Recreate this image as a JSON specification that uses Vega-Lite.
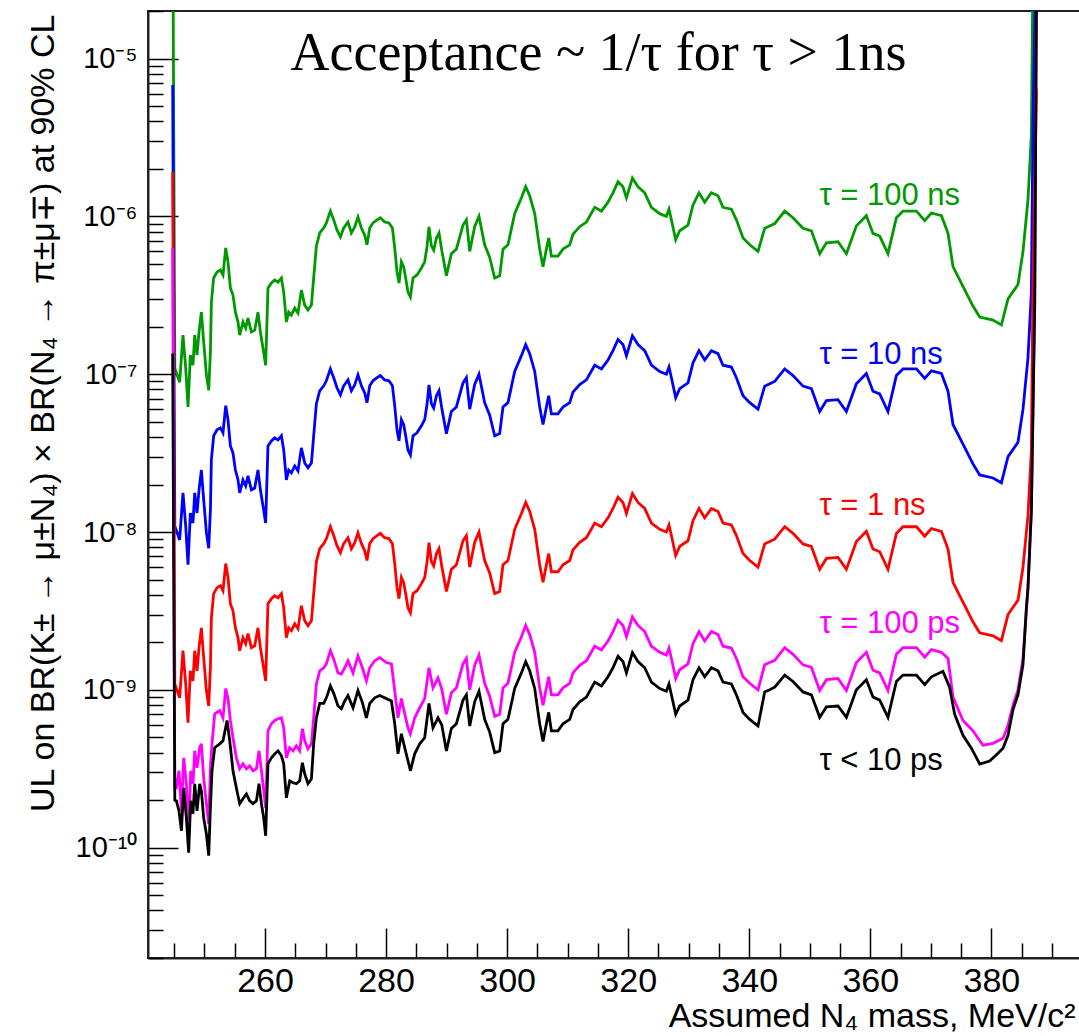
{
"$schema": "https://vega.github.io/schema/vega-lite/v6.json",
"width": 935, "height": 947,
"autosize": {"type": "none"},
"padding": {"left": 148, "top": 11, "right": 0, "bottom": 78},
"background": "white",
"config": {"view": {"stroke": "#222", "strokeWidth": 2}, "font": "Liberation Sans"},
"datasets": {
"red": [{"m":244.75,"v":1.9e-6},{"m":245.1,"v":1.09e-9},{"m":245.9,"v":8.9e-10},{"m":246.45,"v":1.77e-9},{"m":246.9,"v":1.09e-9},{"m":247.28,"v":6.2e-10},{"m":247.67,"v":1.32e-9},{"m":248.1,"v":1.14e-9},{"m":248.39,"v":1.77e-9},{"m":248.77,"v":1.32e-9},{"m":249.1,"v":1.85e-9},{"m":249.49,"v":2.47e-9},{"m":249.87,"v":1.6e-9},{"m":250.32,"v":9.9e-10},{"m":250.7,"v":7.9e-10},{"m":250.98,"v":1.38e-9},{"m":251.14,"v":2.86e-9},{"m":251.52,"v":4.07e-9},{"m":252.07,"v":4.44e-9},{"m":252.63,"v":4.57e-9},{"m":253.06,"v":4.25e-9},{"m":253.51,"v":6.31e-9},{"m":253.89,"v":5.13e-9},{"m":254.28,"v":3.51e-9},{"m":254.71,"v":3.17e-9},{"m":255.11,"v":2.47e-9},{"m":255.54,"v":2.14e-9},{"m":255.82,"v":1.77e-9},{"m":256.36,"v":2.14e-9},{"m":256.81,"v":1.96e-9},{"m":257.19,"v":2.27e-9},{"m":257.75,"v":1.85e-9},{"m":258.3,"v":1.9e-9},{"m":258.84,"v":2.47e-9},{"m":259.24,"v":1.85e-9},{"m":259.67,"v":1.46e-9},{"m":260.11,"v":1.14e-9},{"m":260.49,"v":3.51e-9},{"m":261.06,"v":3.78e-9},{"m":261.6,"v":3.95e-9},{"m":262.15,"v":3.83e-9},{"m":262.71,"v":4.07e-9},{"m":263.09,"v":3.31e-9},{"m":263.53,"v":2.14e-9},{"m":263.91,"v":2.47e-9},{"m":264.36,"v":2.37e-9},{"m":264.91,"v":2.62e-9},{"m":265.45,"v":2.44e-9},{"m":266.01,"v":3.41e-9},{"m":266.56,"v":2.74e-9},{"m":267.1,"v":2.55e-9},{"m":267.67,"v":2.74e-9},{"m":268.04,"v":4.07e-9},{"m":268.49,"v":6.5e-9},{"m":269.04,"v":7.85e-9},{"m":269.7,"v":8.44e-9},{"m":270.14,"v":9.08e-9},{"m":270.8,"v":1.08e-8},{"m":271.35,"v":9.5e-9},{"m":271.89,"v":8.2e-9},{"m":272.46,"v":7.4e-9},{"m":273.0,"v":8.44e-9},{"m":273.71,"v":9.2e-9},{"m":274.27,"v":7.85e-9},{"m":274.82,"v":8.56e-9},{"m":275.36,"v":9.9e-9},{"m":275.93,"v":8.44e-9},{"m":276.47,"v":7.6e-9},{"m":276.85,"v":6.6e-9},{"m":277.3,"v":8.44e-9},{"m":277.84,"v":9.08e-9},{"m":278.5,"v":9.5e-9},{"m":279.06,"v":9.8e-9},{"m":279.77,"v":9.2e-9},{"m":280.48,"v":9.08e-9},{"m":281.05,"v":8.44e-9},{"m":281.43,"v":6.3e-9},{"m":281.81,"v":4.44e-9},{"m":282.14,"v":3.78e-9},{"m":282.53,"v":5.15e-9},{"m":282.91,"v":4.78e-9},{"m":283.24,"v":4.07e-9},{"m":283.62,"v":3.31e-9},{"m":284.02,"v":3.08e-9},{"m":284.45,"v":4.07e-9},{"m":285.11,"v":4.25e-9},{"m":285.84,"v":4.71e-9},{"m":286.38,"v":5.15e-9},{"m":286.76,"v":6.4e-9},{"m":287.09,"v":8.56e-9},{"m":287.49,"v":6.5e-9},{"m":287.87,"v":6.1e-9},{"m":288.32,"v":7.3e-9},{"m":288.75,"v":7.85e-9},{"m":289.2,"v":6.1e-9},{"m":289.97,"v":4.2e-9},{"m":290.79,"v":5.8e-9},{"m":291.62,"v":6.2e-9},{"m":292.71,"v":8.8e-9},{"m":293.27,"v":9.5e-9},{"m":293.82,"v":6.0e-9},{"m":294.64,"v":8.6e-9},{"m":295.35,"v":1.0e-8},{"m":296.29,"v":6.6e-9},{"m":297.12,"v":5.5e-9},{"m":297.95,"v":4.07e-9},{"m":298.77,"v":4.2e-9},{"m":299.32,"v":6.2e-9},{"m":300.14,"v":6.6e-9},{"m":301.25,"v":1.04e-8},{"m":302.36,"v":1.31e-8},{"m":303.07,"v":1.54e-8},{"m":303.73,"v":1.35e-8},{"m":304.56,"v":1.04e-8},{"m":305.38,"v":6.2e-9},{"m":305.93,"v":4.8e-9},{"m":306.49,"v":6.2e-9},{"m":306.87,"v":7.3e-9},{"m":307.31,"v":5.6e-9},{"m":308.4,"v":5.6e-9},{"m":309.23,"v":6.2e-9},{"m":310.34,"v":6.6e-9},{"m":310.88,"v":7.7e-9},{"m":311.99,"v":8.6e-9},{"m":313.1,"v":9.2e-9},{"m":314.47,"v":1.14e-8},{"m":315.58,"v":1.08e-8},{"m":316.67,"v":1.23e-8},{"m":317.49,"v":1.41e-8},{"m":318.32,"v":1.66e-8},{"m":319.14,"v":1.54e-8},{"m":319.71,"v":1.31e-8},{"m":320.7,"v":1.75e-8},{"m":321.62,"v":1.54e-8},{"m":322.73,"v":1.41e-8},{"m":323.84,"v":1.14e-8},{"m":325.21,"v":1.04e-8},{"m":326.31,"v":1.0e-8},{"m":326.74,"v":1.11e-8},{"m":327.14,"v":9.5e-9},{"m":327.85,"v":7.1e-9},{"m":328.51,"v":8.1e-9},{"m":329.88,"v":8.8e-9},{"m":330.71,"v":1.18e-8},{"m":331.7,"v":1.41e-8},{"m":332.64,"v":1.23e-8},{"m":333.75,"v":1.41e-8},{"m":334.84,"v":1.35e-8},{"m":335.66,"v":1.14e-8},{"m":337.05,"v":1.11e-8},{"m":337.88,"v":9.5e-9},{"m":338.97,"v":7.3e-9},{"m":340.08,"v":6.6e-9},{"m":341.45,"v":6.0e-9},{"m":342.55,"v":8.4e-9},{"m":343.38,"v":8.7e-9},{"m":344.21,"v":9.0e-9},{"m":345.86,"v":1.08e-8},{"m":347.23,"v":9.8e-9},{"m":348.88,"v":8.4e-9},{"m":350.27,"v":8.1e-9},{"m":351.64,"v":5.8e-9},{"m":352.75,"v":6.8e-9},{"m":354.66,"v":6.9e-9},{"m":356.05,"v":5.8e-9},{"m":357.7,"v":8.7e-9},{"m":359.35,"v":1.01e-8},{"m":360.44,"v":7.8e-9},{"m":361.55,"v":7.5e-9},{"m":362.92,"v":5.8e-9},{"m":364.31,"v":9.8e-9},{"m":365.4,"v":1.08e-8},{"m":367.62,"v":1.08e-8},{"m":368.99,"v":9.4e-9},{"m":370.09,"v":1.05e-8},{"m":371.75,"v":1.01e-8},{"m":372.84,"v":7.8e-9},{"m":373.66,"v":4.8e-9},{"m":375.31,"v":3.6e-9},{"m":376.96,"v":2.7e-9},{"m":378.07,"v":2.3e-9},{"m":380.27,"v":2.2e-9},{"m":381.66,"v":2.05e-9},{"m":382.75,"v":3.0e-9},{"m":384.4,"v":3.7e-9},{"m":385.23,"v":6.0e-9},{"m":386.05,"v":1.27e-8},{"m":386.61,"v":3.3e-8},{"m":386.88,"v":3.9e-7},{"m":387.44,"v":6.4e-6}],
"green": [{"m":244.75,"v":1e-4},{"m":245.1,"v":1.09e-7},{"m":245.9,"v":8.9e-8},{"m":246.45,"v":1.77e-7},{"m":246.9,"v":1.09e-7},{"m":247.28,"v":6.2e-8},{"m":247.67,"v":1.32e-7},{"m":248.1,"v":1.14e-7},{"m":248.39,"v":1.77e-7},{"m":248.77,"v":1.32e-7},{"m":249.1,"v":1.85e-7},{"m":249.49,"v":2.47e-7},{"m":249.87,"v":1.6e-7},{"m":250.32,"v":9.9e-8},{"m":250.7,"v":7.9e-8},{"m":250.98,"v":1.38e-7},{"m":251.14,"v":2.86e-7},{"m":251.52,"v":4.07e-7},{"m":252.07,"v":4.44e-7},{"m":252.63,"v":4.57e-7},{"m":253.06,"v":4.25e-7},{"m":253.51,"v":6.31e-7},{"m":253.89,"v":5.13e-7},{"m":254.28,"v":3.51e-7},{"m":254.71,"v":3.17e-7},{"m":255.11,"v":2.47e-7},{"m":255.54,"v":2.14e-7},{"m":255.82,"v":1.77e-7},{"m":256.36,"v":2.14e-7},{"m":256.81,"v":1.96e-7},{"m":257.19,"v":2.27e-7},{"m":257.75,"v":1.85e-7},{"m":258.3,"v":1.9e-7},{"m":258.84,"v":2.47e-7},{"m":259.24,"v":1.85e-7},{"m":259.67,"v":1.46e-7},{"m":260.11,"v":1.14e-7},{"m":260.49,"v":3.51e-7},{"m":261.06,"v":3.78e-7},{"m":261.6,"v":3.95e-7},{"m":262.15,"v":3.83e-7},{"m":262.71,"v":4.07e-7},{"m":263.09,"v":3.31e-7},{"m":263.53,"v":2.14e-7},{"m":263.91,"v":2.47e-7},{"m":264.36,"v":2.37e-7},{"m":264.91,"v":2.62e-7},{"m":265.45,"v":2.44e-7},{"m":266.01,"v":3.41e-7},{"m":266.56,"v":2.74e-7},{"m":267.1,"v":2.55e-7},{"m":267.67,"v":2.74e-7},{"m":268.04,"v":4.07e-7},{"m":268.49,"v":6.5e-7},{"m":269.04,"v":7.85e-7},{"m":269.7,"v":8.44e-7},{"m":270.14,"v":9.08e-7},{"m":270.8,"v":1.08e-6},{"m":271.35,"v":9.5e-7},{"m":271.89,"v":8.2e-7},{"m":272.46,"v":7.4e-7},{"m":273.0,"v":8.44e-7},{"m":273.71,"v":9.2e-7},{"m":274.27,"v":7.85e-7},{"m":274.82,"v":8.56e-7},{"m":275.36,"v":9.9e-7},{"m":275.93,"v":8.44e-7},{"m":276.47,"v":7.6e-7},{"m":276.85,"v":6.6e-7},{"m":277.3,"v":8.44e-7},{"m":277.84,"v":9.08e-7},{"m":278.5,"v":9.5e-7},{"m":279.06,"v":9.8e-7},{"m":279.77,"v":9.2e-7},{"m":280.48,"v":9.08e-7},{"m":281.05,"v":8.44e-7},{"m":281.43,"v":6.3e-7},{"m":281.81,"v":4.44e-7},{"m":282.14,"v":3.78e-7},{"m":282.53,"v":5.15e-7},{"m":282.91,"v":4.78e-7},{"m":283.24,"v":4.07e-7},{"m":283.62,"v":3.31e-7},{"m":284.02,"v":3.08e-7},{"m":284.45,"v":4.07e-7},{"m":285.11,"v":4.25e-7},{"m":285.84,"v":4.71e-7},{"m":286.38,"v":5.15e-7},{"m":286.76,"v":6.4e-7},{"m":287.09,"v":8.56e-7},{"m":287.49,"v":6.5e-7},{"m":287.87,"v":6.1e-7},{"m":288.32,"v":7.3e-7},{"m":288.75,"v":7.85e-7},{"m":289.2,"v":6.1e-7},{"m":289.97,"v":4.2e-7},{"m":290.79,"v":5.8e-7},{"m":291.62,"v":6.2e-7},{"m":292.71,"v":8.8e-7},{"m":293.27,"v":9.5e-7},{"m":293.82,"v":6.0e-7},{"m":294.64,"v":8.6e-7},{"m":295.35,"v":1.0e-6},{"m":296.29,"v":6.6e-7},{"m":297.12,"v":5.5e-7},{"m":297.95,"v":4.07e-7},{"m":298.77,"v":4.2e-7},{"m":299.32,"v":6.2e-7},{"m":300.14,"v":6.6e-7},{"m":301.25,"v":1.04e-6},{"m":302.36,"v":1.31e-6},{"m":303.07,"v":1.54e-6},{"m":303.73,"v":1.35e-6},{"m":304.56,"v":1.04e-6},{"m":305.38,"v":6.2e-7},{"m":305.93,"v":4.8e-7},{"m":306.49,"v":6.2e-7},{"m":306.87,"v":7.3e-7},{"m":307.31,"v":5.6e-7},{"m":308.4,"v":5.6e-7},{"m":309.23,"v":6.2e-7},{"m":310.34,"v":6.6e-7},{"m":310.88,"v":7.7e-7},{"m":311.99,"v":8.6e-7},{"m":313.1,"v":9.2e-7},{"m":314.47,"v":1.14e-6},{"m":315.58,"v":1.08e-6},{"m":316.67,"v":1.23e-6},{"m":317.49,"v":1.41e-6},{"m":318.32,"v":1.66e-6},{"m":319.14,"v":1.54e-6},{"m":319.71,"v":1.31e-6},{"m":320.7,"v":1.75e-6},{"m":321.62,"v":1.54e-6},{"m":322.73,"v":1.41e-6},{"m":323.84,"v":1.14e-6},{"m":325.21,"v":1.04e-6},{"m":326.31,"v":1.0e-6},{"m":326.74,"v":1.11e-6},{"m":327.14,"v":9.5e-7},{"m":327.85,"v":7.1e-7},{"m":328.51,"v":8.1e-7},{"m":329.88,"v":8.8e-7},{"m":330.71,"v":1.18e-6},{"m":331.7,"v":1.41e-6},{"m":332.64,"v":1.23e-6},{"m":333.75,"v":1.41e-6},{"m":334.84,"v":1.35e-6},{"m":335.66,"v":1.14e-6},{"m":337.05,"v":1.11e-6},{"m":337.88,"v":9.5e-7},{"m":338.97,"v":7.3e-7},{"m":340.08,"v":6.6e-7},{"m":341.45,"v":6.0e-7},{"m":342.55,"v":8.4e-7},{"m":343.38,"v":8.7e-7},{"m":344.21,"v":9.0e-7},{"m":345.86,"v":1.08e-6},{"m":347.23,"v":9.8e-7},{"m":348.88,"v":8.4e-7},{"m":350.27,"v":8.1e-7},{"m":351.64,"v":5.8e-7},{"m":352.75,"v":6.8e-7},{"m":354.66,"v":6.9e-7},{"m":356.05,"v":5.8e-7},{"m":357.7,"v":8.7e-7},{"m":359.35,"v":1.01e-6},{"m":360.44,"v":7.8e-7},{"m":361.55,"v":7.5e-7},{"m":362.92,"v":5.8e-7},{"m":364.31,"v":9.8e-7},{"m":365.4,"v":1.08e-6},{"m":367.62,"v":1.08e-6},{"m":368.99,"v":9.4e-7},{"m":370.09,"v":1.05e-6},{"m":371.75,"v":1.01e-6},{"m":372.84,"v":7.8e-7},{"m":373.66,"v":4.8e-7},{"m":375.31,"v":3.6e-7},{"m":376.96,"v":2.7e-7},{"m":378.07,"v":2.3e-7},{"m":380.27,"v":2.2e-7},{"m":381.66,"v":2.05e-7},{"m":382.75,"v":3.0e-7},{"m":384.4,"v":3.7e-7},{"m":385.23,"v":6.0e-7},{"m":386.05,"v":1.27e-6},{"m":386.61,"v":3.3e-6},{"m":386.88,"v":3.9e-5}],
"blue": [{"m":244.75,"v":6.8e-6},{"m":245.1,"v":1.09e-8},{"m":245.9,"v":8.9e-9},{"m":246.45,"v":1.77e-8},{"m":246.9,"v":1.09e-8},{"m":247.28,"v":6.2e-9},{"m":247.67,"v":1.32e-8},{"m":248.1,"v":1.14e-8},{"m":248.39,"v":1.77e-8},{"m":248.77,"v":1.32e-8},{"m":249.1,"v":1.85e-8},{"m":249.49,"v":2.47e-8},{"m":249.87,"v":1.6e-8},{"m":250.32,"v":9.9e-9},{"m":250.7,"v":7.9e-9},{"m":250.98,"v":1.38e-8},{"m":251.14,"v":2.86e-8},{"m":251.52,"v":4.07e-8},{"m":252.07,"v":4.44e-8},{"m":252.63,"v":4.57e-8},{"m":253.06,"v":4.25e-8},{"m":253.51,"v":6.31e-8},{"m":253.89,"v":5.13e-8},{"m":254.28,"v":3.51e-8},{"m":254.71,"v":3.17e-8},{"m":255.11,"v":2.47e-8},{"m":255.54,"v":2.14e-8},{"m":255.82,"v":1.77e-8},{"m":256.36,"v":2.14e-8},{"m":256.81,"v":1.96e-8},{"m":257.19,"v":2.27e-8},{"m":257.75,"v":1.85e-8},{"m":258.3,"v":1.9e-8},{"m":258.84,"v":2.47e-8},{"m":259.24,"v":1.85e-8},{"m":259.67,"v":1.46e-8},{"m":260.11,"v":1.14e-8},{"m":260.49,"v":3.51e-8},{"m":261.06,"v":3.78e-8},{"m":261.6,"v":3.95e-8},{"m":262.15,"v":3.83e-8},{"m":262.71,"v":4.07e-8},{"m":263.09,"v":3.31e-8},{"m":263.53,"v":2.14e-8},{"m":263.91,"v":2.47e-8},{"m":264.36,"v":2.37e-8},{"m":264.91,"v":2.62e-8},{"m":265.45,"v":2.44e-8},{"m":266.01,"v":3.41e-8},{"m":266.56,"v":2.74e-8},{"m":267.1,"v":2.55e-8},{"m":267.67,"v":2.74e-8},{"m":268.04,"v":4.07e-8},{"m":268.49,"v":6.5e-8},{"m":269.04,"v":7.85e-8},{"m":269.7,"v":8.44e-8},{"m":270.14,"v":9.08e-8},{"m":270.8,"v":1.08e-7},{"m":271.35,"v":9.5e-8},{"m":271.89,"v":8.2e-8},{"m":272.46,"v":7.4e-8},{"m":273.0,"v":8.44e-8},{"m":273.71,"v":9.2e-8},{"m":274.27,"v":7.85e-8},{"m":274.82,"v":8.56e-8},{"m":275.36,"v":9.9e-8},{"m":275.93,"v":8.44e-8},{"m":276.47,"v":7.6e-8},{"m":276.85,"v":6.6e-8},{"m":277.3,"v":8.44e-8},{"m":277.84,"v":9.08e-8},{"m":278.5,"v":9.5e-8},{"m":279.06,"v":9.8e-8},{"m":279.77,"v":9.2e-8},{"m":280.48,"v":9.08e-8},{"m":281.05,"v":8.44e-8},{"m":281.43,"v":6.3e-8},{"m":281.81,"v":4.44e-8},{"m":282.14,"v":3.78e-8},{"m":282.53,"v":5.15e-8},{"m":282.91,"v":4.78e-8},{"m":283.24,"v":4.07e-8},{"m":283.62,"v":3.31e-8},{"m":284.02,"v":3.08e-8},{"m":284.45,"v":4.07e-8},{"m":285.11,"v":4.25e-8},{"m":285.84,"v":4.71e-8},{"m":286.38,"v":5.15e-8},{"m":286.76,"v":6.4e-8},{"m":287.09,"v":8.56e-8},{"m":287.49,"v":6.5e-8},{"m":287.87,"v":6.1e-8},{"m":288.32,"v":7.3e-8},{"m":288.75,"v":7.85e-8},{"m":289.2,"v":6.1e-8},{"m":289.97,"v":4.2e-8},{"m":290.79,"v":5.8e-8},{"m":291.62,"v":6.2e-8},{"m":292.71,"v":8.8e-8},{"m":293.27,"v":9.5e-8},{"m":293.82,"v":6.0e-8},{"m":294.64,"v":8.6e-8},{"m":295.35,"v":1.0e-7},{"m":296.29,"v":6.6e-8},{"m":297.12,"v":5.5e-8},{"m":297.95,"v":4.07e-8},{"m":298.77,"v":4.2e-8},{"m":299.32,"v":6.2e-8},{"m":300.14,"v":6.6e-8},{"m":301.25,"v":1.04e-7},{"m":302.36,"v":1.31e-7},{"m":303.07,"v":1.54e-7},{"m":303.73,"v":1.35e-7},{"m":304.56,"v":1.04e-7},{"m":305.38,"v":6.2e-8},{"m":305.93,"v":4.8e-8},{"m":306.49,"v":6.2e-8},{"m":306.87,"v":7.3e-8},{"m":307.31,"v":5.6e-8},{"m":308.4,"v":5.6e-8},{"m":309.23,"v":6.2e-8},{"m":310.34,"v":6.6e-8},{"m":310.88,"v":7.7e-8},{"m":311.99,"v":8.6e-8},{"m":313.1,"v":9.2e-8},{"m":314.47,"v":1.14e-7},{"m":315.58,"v":1.08e-7},{"m":316.67,"v":1.23e-7},{"m":317.49,"v":1.41e-7},{"m":318.32,"v":1.66e-7},{"m":319.14,"v":1.54e-7},{"m":319.71,"v":1.31e-7},{"m":320.7,"v":1.75e-7},{"m":321.62,"v":1.54e-7},{"m":322.73,"v":1.41e-7},{"m":323.84,"v":1.14e-7},{"m":325.21,"v":1.04e-7},{"m":326.31,"v":1.0e-7},{"m":326.74,"v":1.11e-7},{"m":327.14,"v":9.5e-8},{"m":327.85,"v":7.1e-8},{"m":328.51,"v":8.1e-8},{"m":329.88,"v":8.8e-8},{"m":330.71,"v":1.18e-7},{"m":331.7,"v":1.41e-7},{"m":332.64,"v":1.23e-7},{"m":333.75,"v":1.41e-7},{"m":334.84,"v":1.35e-7},{"m":335.66,"v":1.14e-7},{"m":337.05,"v":1.11e-7},{"m":337.88,"v":9.5e-8},{"m":338.97,"v":7.3e-8},{"m":340.08,"v":6.6e-8},{"m":341.45,"v":6.0e-8},{"m":342.55,"v":8.4e-8},{"m":343.38,"v":8.7e-8},{"m":344.21,"v":9.0e-8},{"m":345.86,"v":1.08e-7},{"m":347.23,"v":9.8e-8},{"m":348.88,"v":8.4e-8},{"m":350.27,"v":8.1e-8},{"m":351.64,"v":5.8e-8},{"m":352.75,"v":6.8e-8},{"m":354.66,"v":6.9e-8},{"m":356.05,"v":5.8e-8},{"m":357.7,"v":8.7e-8},{"m":359.35,"v":1.01e-7},{"m":360.44,"v":7.8e-8},{"m":361.55,"v":7.5e-8},{"m":362.92,"v":5.8e-8},{"m":364.31,"v":9.8e-8},{"m":365.4,"v":1.08e-7},{"m":367.62,"v":1.08e-7},{"m":368.99,"v":9.4e-8},{"m":370.09,"v":1.05e-7},{"m":371.75,"v":1.01e-7},{"m":372.84,"v":7.8e-8},{"m":373.66,"v":4.8e-8},{"m":375.31,"v":3.6e-8},{"m":376.96,"v":2.7e-8},{"m":378.07,"v":2.3e-8},{"m":380.27,"v":2.2e-8},{"m":381.66,"v":2.05e-8},{"m":382.75,"v":3.0e-8},{"m":384.4,"v":3.7e-8},{"m":385.23,"v":6.0e-8},{"m":386.05,"v":1.27e-7},{"m":386.61,"v":3.3e-7},{"m":386.88,"v":3.9e-6},{"m":387.44,"v":6.4e-5}],
"magenta": [{"m":244.75,"v":6.3e-7},{"m":245.1,"v":2.4e-10},{"m":245.36,"v":2.39e-10},{"m":245.79,"v":3.07e-10},{"m":246.19,"v":1.71e-10},{"m":246.57,"v":3.71e-10},{"m":247.01,"v":2.54e-10},{"m":247.39,"v":1.28e-10},{"m":247.72,"v":3.07e-10},{"m":248.1,"v":2.54e-10},{"m":248.39,"v":4.11e-10},{"m":248.77,"v":3.21e-10},{"m":249.21,"v":4.3e-10},{"m":249.49,"v":4.55e-10},{"m":249.87,"v":2.77e-10},{"m":250.32,"v":1.9e-10},{"m":250.7,"v":1.41e-10},{"m":250.98,"v":3.21e-10},{"m":251.24,"v":4.55e-10},{"m":251.69,"v":7.05e-10},{"m":252.52,"v":7.4e-10},{"m":253.06,"v":6.65e-10},{"m":253.51,"v":1.02e-9},{"m":253.89,"v":8.8e-10},{"m":254.28,"v":6.4e-10},{"m":254.71,"v":4.97e-10},{"m":255.27,"v":3.71e-10},{"m":255.82,"v":3.16e-10},{"m":256.36,"v":3.4e-10},{"m":256.93,"v":3.16e-10},{"m":257.47,"v":3.3e-10},{"m":258.02,"v":3.07e-10},{"m":258.58,"v":3.16e-10},{"m":259.01,"v":4.11e-10},{"m":259.41,"v":3.07e-10},{"m":259.79,"v":2.29e-10},{"m":260.11,"v":1.79e-10},{"m":260.49,"v":5.5e-10},{"m":261.06,"v":6.1e-10},{"m":261.6,"v":6.4e-10},{"m":262.15,"v":6.56e-10},{"m":262.71,"v":6.65e-10},{"m":263.09,"v":5.75e-10},{"m":263.53,"v":3.71e-10},{"m":264.08,"v":4.3e-10},{"m":264.63,"v":4.11e-10},{"m":265.19,"v":4.42e-10},{"m":265.73,"v":4.11e-10},{"m":266.18,"v":5.67e-10},{"m":266.56,"v":4.76e-10},{"m":267.1,"v":4.23e-10},{"m":267.67,"v":4.55e-10},{"m":268.04,"v":6.65e-10},{"m":268.49,"v":1.09e-9},{"m":269.04,"v":1.32e-9},{"m":269.7,"v":1.38e-9},{"m":270.14,"v":1.46e-9},{"m":270.8,"v":1.77e-9},{"m":271.35,"v":1.57e-9},{"m":272.06,"v":1.28e-9},{"m":272.62,"v":1.26e-9},{"m":273.17,"v":1.38e-9},{"m":273.71,"v":1.53e-9},{"m":274.54,"v":1.28e-9},{"m":275.36,"v":1.64e-9},{"m":276.09,"v":1.38e-9},{"m":276.75,"v":1.14e-9},{"m":277.3,"v":1.38e-9},{"m":278.12,"v":1.53e-9},{"m":278.95,"v":1.6e-9},{"m":280.06,"v":1.49e-9},{"m":280.88,"v":1.46e-9},{"m":281.43,"v":9.9e-10},{"m":281.97,"v":6.65e-10},{"m":282.53,"v":8.8e-10},{"m":283.08,"v":7.05e-10},{"m":283.62,"v":5.75e-10},{"m":284.02,"v":5.27e-10},{"m":284.73,"v":6.65e-10},{"m":285.56,"v":7.7e-10},{"m":286.38,"v":8.8e-10},{"m":287.09,"v":1.38e-9},{"m":287.75,"v":1.03e-9},{"m":288.58,"v":1.19e-9},{"m":289.2,"v":1.01e-9},{"m":289.97,"v":7.0e-10},{"m":290.79,"v":9.6e-10},{"m":291.62,"v":1.03e-9},{"m":292.71,"v":1.46e-9},{"m":293.27,"v":1.58e-9},{"m":293.82,"v":1.0e-9},{"m":294.64,"v":1.43e-9},{"m":295.35,"v":1.66e-9},{"m":296.29,"v":1.1e-9},{"m":297.12,"v":9.1e-10},{"m":297.95,"v":6.8e-10},{"m":298.77,"v":7.0e-10},{"m":299.32,"v":1.03e-9},{"m":300.14,"v":1.1e-9},{"m":301.25,"v":1.73e-9},{"m":302.36,"v":2.17e-9},{"m":303.07,"v":2.56e-9},{"m":303.73,"v":2.24e-9},{"m":304.56,"v":1.73e-9},{"m":305.38,"v":1.03e-9},{"m":305.93,"v":8.0e-10},{"m":306.49,"v":1.03e-9},{"m":306.87,"v":1.21e-9},{"m":307.31,"v":9.3e-10},{"m":308.4,"v":9.3e-10},{"m":309.23,"v":1.03e-9},{"m":310.34,"v":1.1e-9},{"m":310.88,"v":1.28e-9},{"m":311.99,"v":1.43e-9},{"m":313.1,"v":1.53e-9},{"m":314.47,"v":1.89e-9},{"m":315.58,"v":1.79e-9},{"m":316.67,"v":2.04e-9},{"m":317.49,"v":2.34e-9},{"m":318.32,"v":2.76e-9},{"m":319.14,"v":2.56e-9},{"m":319.71,"v":2.17e-9},{"m":320.7,"v":2.9e-9},{"m":321.62,"v":2.56e-9},{"m":322.73,"v":2.34e-9},{"m":323.84,"v":1.89e-9},{"m":325.21,"v":1.73e-9},{"m":326.31,"v":1.66e-9},{"m":326.74,"v":1.84e-9},{"m":327.14,"v":1.58e-9},{"m":327.85,"v":1.18e-9},{"m":328.51,"v":1.34e-9},{"m":329.88,"v":1.46e-9},{"m":330.71,"v":1.96e-9},{"m":331.7,"v":2.34e-9},{"m":332.64,"v":2.04e-9},{"m":333.75,"v":2.34e-9},{"m":334.84,"v":2.24e-9},{"m":335.66,"v":1.89e-9},{"m":337.05,"v":1.84e-9},{"m":337.88,"v":1.58e-9},{"m":338.97,"v":1.21e-9},{"m":340.08,"v":1.1e-9},{"m":341.45,"v":1.0e-9},{"m":342.55,"v":1.44e-9},{"m":343.38,"v":1.49e-9},{"m":344.21,"v":1.54e-9},{"m":345.86,"v":1.85e-9},{"m":347.23,"v":1.68e-9},{"m":348.88,"v":1.44e-9},{"m":350.27,"v":1.39e-9},{"m":351.64,"v":9.9e-10},{"m":352.75,"v":1.16e-9},{"m":354.66,"v":1.18e-9},{"m":356.05,"v":9.9e-10},{"m":357.7,"v":1.49e-9},{"m":359.35,"v":1.73e-9},{"m":360.44,"v":1.33e-9},{"m":361.55,"v":1.28e-9},{"m":362.92,"v":9.9e-10},{"m":364.31,"v":1.68e-9},{"m":365.4,"v":1.85e-9},{"m":367.62,"v":1.85e-9},{"m":368.99,"v":1.61e-9},{"m":370.09,"v":1.8e-9},{"m":371.75,"v":1.73e-9},{"m":372.84,"v":1.58e-9},{"m":373.66,"v":9.0e-10},{"m":375.31,"v":6.4e-10},{"m":376.96,"v":5.5e-10},{"m":378.62,"v":4.46e-10},{"m":380.27,"v":4.58e-10},{"m":381.93,"v":4.93e-10},{"m":382.75,"v":5.95e-10},{"m":383.58,"v":8.0e-10},{"m":384.4,"v":1.0e-9},{"m":385.23,"v":1.58e-9},{"m":386.05,"v":4.44e-9},{"m":386.61,"v":1.37e-8},{"m":387.16,"v":2.7e-7},{"m":387.54,"v":1e-4}],
"black": [{"m":244.75,"v":1.35e-7},{"m":245.1,"v":2.0e-10},{"m":245.36,"v":1.98e-10},{"m":245.79,"v":1.71e-10},{"m":246.19,"v":1.28e-10},{"m":246.57,"v":2.39e-10},{"m":247.01,"v":1.54e-10},{"m":247.39,"v":9.3e-11},{"m":247.72,"v":1.98e-10},{"m":248.1,"v":1.64e-10},{"m":248.39,"v":2.54e-10},{"m":248.77,"v":1.71e-10},{"m":249.21,"v":2.54e-10},{"m":249.49,"v":2.29e-10},{"m":249.87,"v":1.54e-10},{"m":250.32,"v":1.22e-10},{"m":250.7,"v":8.9e-11},{"m":250.98,"v":1.79e-10},{"m":251.24,"v":3.07e-10},{"m":251.69,"v":4.3e-10},{"m":252.52,"v":4.55e-10},{"m":253.06,"v":4.76e-10},{"m":253.73,"v":6.4e-10},{"m":254.17,"v":4.76e-10},{"m":254.71,"v":3.07e-10},{"m":255.27,"v":2.39e-10},{"m":255.82,"v":1.9e-10},{"m":256.36,"v":2.04e-10},{"m":256.93,"v":2.19e-10},{"m":257.47,"v":1.98e-10},{"m":258.02,"v":1.9e-10},{"m":258.58,"v":1.98e-10},{"m":259.01,"v":2.54e-10},{"m":259.41,"v":1.9e-10},{"m":259.79,"v":1.54e-10},{"m":260.11,"v":1.19e-10},{"m":260.49,"v":3.4e-10},{"m":261.06,"v":3.71e-10},{"m":261.6,"v":3.93e-10},{"m":262.15,"v":4.11e-10},{"m":262.71,"v":3.82e-10},{"m":263.09,"v":3.4e-10},{"m":263.53,"v":2.07e-10},{"m":264.08,"v":2.65e-10},{"m":264.63,"v":2.58e-10},{"m":265.19,"v":2.54e-10},{"m":265.73,"v":2.65e-10},{"m":266.18,"v":3.45e-10},{"m":266.56,"v":2.93e-10},{"m":267.1,"v":2.54e-10},{"m":267.67,"v":2.73e-10},{"m":268.04,"v":4.55e-10},{"m":268.49,"v":6.65e-10},{"m":269.04,"v":8.2e-10},{"m":269.7,"v":8.2e-10},{"m":270.14,"v":8.9e-10},{"m":270.8,"v":1.06e-9},{"m":271.35,"v":9.5e-10},{"m":272.06,"v":7.9e-10},{"m":272.62,"v":7.6e-10},{"m":273.17,"v":8.5e-10},{"m":273.71,"v":9.2e-10},{"m":274.54,"v":7.7e-10},{"m":275.36,"v":9.9e-10},{"m":276.09,"v":8.3e-10},{"m":276.75,"v":6.65e-10},{"m":277.3,"v":8.2e-10},{"m":278.12,"v":8.9e-10},{"m":278.95,"v":9.2e-10},{"m":280.06,"v":8.8e-10},{"m":280.88,"v":8.5e-10},{"m":281.43,"v":6.1e-10},{"m":281.97,"v":3.93e-10},{"m":282.53,"v":5.27e-10},{"m":283.08,"v":4.3e-10},{"m":283.62,"v":3.55e-10},{"m":284.02,"v":3.07e-10},{"m":284.73,"v":3.93e-10},{"m":285.56,"v":4.55e-10},{"m":286.38,"v":4.97e-10},{"m":287.09,"v":8.2e-10},{"m":287.75,"v":5.75e-10},{"m":288.58,"v":6.65e-10},{"m":289.2,"v":6.0e-10},{"m":289.97,"v":4.1e-10},{"m":290.79,"v":5.7e-10},{"m":291.62,"v":6.1e-10},{"m":292.71,"v":8.6e-10},{"m":293.27,"v":9.3e-10},{"m":293.82,"v":5.9e-10},{"m":294.64,"v":8.4e-10},{"m":295.35,"v":9.8e-10},{"m":296.29,"v":6.5e-10},{"m":297.12,"v":5.4e-10},{"m":297.95,"v":4.0e-10},{"m":298.77,"v":4.1e-10},{"m":299.32,"v":6.1e-10},{"m":300.14,"v":6.5e-10},{"m":301.25,"v":1.02e-9},{"m":302.36,"v":1.28e-9},{"m":303.07,"v":1.51e-9},{"m":303.73,"v":1.32e-9},{"m":304.56,"v":1.02e-9},{"m":305.38,"v":6.1e-10},{"m":305.93,"v":4.7e-10},{"m":306.49,"v":6.1e-10},{"m":306.87,"v":7.2e-10},{"m":307.31,"v":5.5e-10},{"m":308.4,"v":5.5e-10},{"m":309.23,"v":6.1e-10},{"m":310.34,"v":6.5e-10},{"m":310.88,"v":7.5e-10},{"m":311.99,"v":8.4e-10},{"m":313.1,"v":9.0e-10},{"m":314.47,"v":1.12e-9},{"m":315.58,"v":1.06e-9},{"m":316.67,"v":1.21e-9},{"m":317.49,"v":1.38e-9},{"m":318.32,"v":1.63e-9},{"m":319.14,"v":1.51e-9},{"m":319.71,"v":1.28e-9},{"m":320.7,"v":1.72e-9},{"m":321.62,"v":1.51e-9},{"m":322.73,"v":1.38e-9},{"m":323.84,"v":1.12e-9},{"m":325.21,"v":1.02e-9},{"m":326.31,"v":9.8e-10},{"m":326.74,"v":1.09e-9},{"m":327.14,"v":9.3e-10},{"m":327.85,"v":7.0e-10},{"m":328.51,"v":7.9e-10},{"m":329.88,"v":8.6e-10},{"m":330.71,"v":1.16e-9},{"m":331.7,"v":1.38e-9},{"m":332.64,"v":1.21e-9},{"m":333.75,"v":1.38e-9},{"m":334.84,"v":1.32e-9},{"m":335.66,"v":1.12e-9},{"m":337.05,"v":1.09e-9},{"m":337.88,"v":9.3e-10},{"m":338.97,"v":7.2e-10},{"m":340.08,"v":6.5e-10},{"m":341.45,"v":5.9e-10},{"m":342.55,"v":9.7e-10},{"m":343.38,"v":1.0e-9},{"m":344.21,"v":1.04e-9},{"m":345.86,"v":1.24e-9},{"m":347.23,"v":1.13e-9},{"m":348.88,"v":9.7e-10},{"m":350.27,"v":9.3e-10},{"m":351.64,"v":6.7e-10},{"m":352.75,"v":7.8e-10},{"m":354.66,"v":7.9e-10},{"m":356.05,"v":6.7e-10},{"m":357.7,"v":1.0e-9},{"m":359.35,"v":1.16e-9},{"m":360.44,"v":9.0e-10},{"m":361.55,"v":8.6e-10},{"m":362.92,"v":6.7e-10},{"m":364.31,"v":1.13e-9},{"m":365.4,"v":1.24e-9},{"m":367.62,"v":1.24e-9},{"m":368.99,"v":1.08e-9},{"m":370.09,"v":1.21e-9},{"m":372.0,"v":1.31e-9},{"m":373.1,"v":1.04e-9},{"m":373.94,"v":7.0e-10},{"m":375.31,"v":5.15e-10},{"m":376.7,"v":4.27e-10},{"m":378.07,"v":3.39e-10},{"m":379.72,"v":3.54e-10},{"m":381.1,"v":3.97e-10},{"m":381.93,"v":4.27e-10},{"m":382.75,"v":5.15e-10},{"m":383.58,"v":7.5e-10},{"m":384.4,"v":9.3e-10},{"m":385.23,"v":1.45e-9},{"m":385.78,"v":3.29e-9},{"m":386.05,"v":4.44e-9},{"m":386.61,"v":1.37e-8},{"m":387.16,"v":2.7e-7},{"m":387.54,"v":1e-4}],
"labels": [{"m":351.6,"v":1.34e-6,"t":"τ = 100 ns","s":"100 ns"},{"m":351.6,"v":1.32e-7,"t":"τ = 10 ns","s":"10 ns"},{"m":351.6,"v":1.47e-8,"t":"τ = 1 ns","s":"1 ns"},{"m":351.6,"v":2.61e-9,"t":"τ = 100 ps","s":"100 ps"},{"m":351.6,"v":3.55e-10,"t":"τ < 10 ps","s":"<10 ps"}],
"headline": [{"m":315.1,"v":8.4e-6,"t":"Acceptance ~ 1/τ for τ > 1ns"}]
},
"encoding": {
"x": {"field": "m", "type": "quantitative",
 "scale": {"domain": [240.67, 395.14], "nice": false, "zero": false},
 "axis": {"values": [245,250,255,260,265,270,275,280,285,290,295,300,305,310,315,320,325,330,335,340,345,350,355,360,365,370,375,380,385,390],
  "labelExpr": "datum.value % 20 == 0 ? format(datum.value, 'd') : ''",
  "labelFont": "Liberation Sans", "labelFontSize": 34, "labelColor": "black", "labelPadding": 36, "labelFlush": false, "labelOverlap": false, "labelBaseline": "top",
  "tickSize": {"condition": {"test": "datum.value % 20 == 0", "value": -30}, "value": -15},
  "tickColor": "black", "tickWidth": 1.5, "domainColor": "#222", "domainWidth": 2, "grid": false,
  "title": "Assumed N₄ mass, MeV/c²", "titleFont": "Liberation Sans", "titleFontSize": 34, "titleFontWeight": "normal", "titleColor": "black",
  "titleX": 927, "titleY": 68, "titleAlign": "right", "titleBaseline": "alphabetic", "titleAnchor": "end"}},
"y": {"field": "v", "type": "quantitative",
 "scale": {"type": "log", "domain": [2e-11, 2e-5], "nice": false},
 "axis": {"values": [2e-11,3e-11,4e-11,5e-11,6e-11,7e-11,8e-11,9e-11,1e-10,2e-10,3e-10,4e-10,5e-10,6e-10,7e-10,8e-10,9e-10,1e-9,2e-9,3e-9,4e-9,5e-9,6e-9,7e-9,8e-9,9e-9,1e-8,2e-8,3e-8,4e-8,5e-8,6e-8,7e-8,8e-8,9e-8,1e-7,2e-7,3e-7,4e-7,5e-7,6e-7,7e-7,8e-7,9e-7,1e-6,2e-6,3e-6,4e-6,5e-6,6e-6,7e-6,8e-6,9e-6,1e-5,2e-5],
  "labelExpr": "abs(log(datum.value)/LN10 - round(log(datum.value)/LN10)) > 0.01 ? '' : round(log(datum.value)/LN10) == -5 ? '10⁻⁵' : round(log(datum.value)/LN10) == -6 ? '10⁻⁶' : round(log(datum.value)/LN10) == -7 ? '10⁻⁷' : round(log(datum.value)/LN10) == -8 ? '10⁻⁸' : round(log(datum.value)/LN10) == -9 ? '10⁻⁹' : round(log(datum.value)/LN10) == -10 ? '10⁻¹⁰' : ''",
  "labelFont": "Liberation Sans", "labelFontSize": 29, "labelColor": "black", "labelPadding": 41, "labelOverlap": false, "labelFlush": false,
  "tickSize": {"condition": {"test": "abs(log(datum.value)/LN10 - round(log(datum.value)/LN10)) < 0.01", "value": -30}, "value": -15},
  "tickColor": "black", "tickWidth": 1.5, "domainColor": "#222", "domainWidth": 2, "grid": false,
  "title": "UL on BR(K± → μ±N₄) × BR(N₄ → π±μ∓) at 90% CL", "titleFont": "Liberation Sans", "titleFontSize": 34, "titleFontWeight": "normal", "titleColor": "black",
  "titleX": -105, "titleY": 3, "titleAngle": 270, "titleAlign": "right", "titleBaseline": "middle", "titleAnchor": "end"}}
},
"layer": [
{"data": {"name": "green"}, "mark": {"type": "line", "color": "#009900", "strokeWidth": 2.8, "clip": true}},
{"data": {"name": "blue"}, "mark": {"type": "line", "color": "#0000ff", "strokeWidth": 2.8, "clip": true}},
{"data": {"name": "red"}, "mark": {"type": "line", "color": "#ff0000", "strokeWidth": 2.8, "clip": true}},
{"data": {"name": "magenta"}, "mark": {"type": "line", "color": "#ff00ff", "strokeWidth": 2.8, "clip": true}},
{"data": {"name": "black"}, "mark": {"type": "line", "color": "#000000", "strokeWidth": 2.8, "clip": true}},
{"data": {"name": "labels"}, "mark": {"type": "text", "align": "left", "baseline": "middle", "font": "Liberation Sans", "fontSize": 31},
 "encoding": {"text": {"field": "t"}, "color": {"field": "s", "type": "nominal", "legend": null,
   "scale": {"domain": ["100 ns","10 ns","1 ns","100 ps","<10 ps"], "range": ["#009900","#0000ff","#ff0000","#ff00ff","#000000"]}}}},
{"data": {"name": "headline"}, "mark": {"type": "text", "align": "center", "baseline": "alphabetic", "font": "Liberation Serif", "fontSize": 54, "color": "black"},
 "encoding": {"text": {"field": "t"}}}
]
}
